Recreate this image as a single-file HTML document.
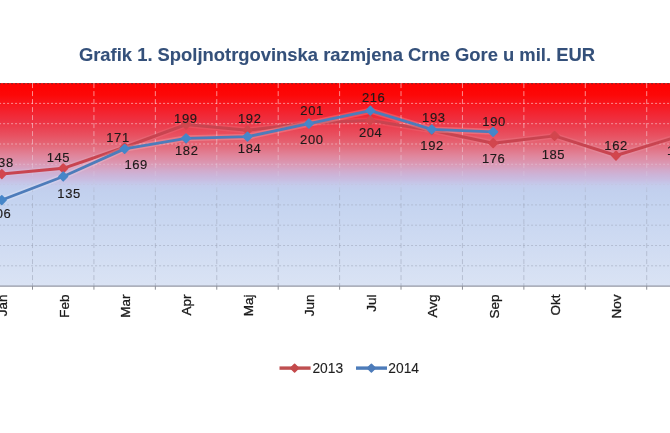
<!DOCTYPE html>
<html><head><meta charset="utf-8"><style>
html,body{margin:0;padding:0;background:#fff;width:670px;height:433px;overflow:hidden}
svg{display:block;filter:blur(0.45px)}
text{font-family:"Liberation Sans",Arial,sans-serif}
.dl{font-size:13px;fill:#1e1a1a;stroke:#1e1a1a;stroke-width:0.15px;text-anchor:middle;letter-spacing:0.6px}
.ml{font-size:13.5px;fill:#1a1a1a;stroke:#1a1a1a;stroke-width:0.3px;text-anchor:end}
.lg{font-size:13.8px;fill:#1e1e1e;stroke:#1e1e1e;stroke-width:0.1px}
.tt{font-size:18.4px;font-weight:bold;fill:#34507a;stroke:#34507a;stroke-width:0.1px}
</style></head><body>
<svg width="670" height="433" viewBox="0 0 670 433">
<defs><linearGradient id="gg" gradientUnits="userSpaceOnUse" x1="0" y1="83" x2="0" y2="286">
<stop offset="0" stop-color="#ffffff" stop-opacity="0.55"/>
<stop offset="0.35" stop-color="#f4e8f0" stop-opacity="0.42"/>
<stop offset="0.45" stop-color="#e0e0f0" stop-opacity="0.2"/>
<stop offset="0.55" stop-color="#98a0b4" stop-opacity="0.45"/>
<stop offset="1" stop-color="#98a0b4" stop-opacity="0.55"/>
</linearGradient>
<linearGradient id="bg" x1="0" y1="0" x2="0" y2="1">
<stop offset="0" stop-color="#ff0000"/>
<stop offset="0.059" stop-color="#fc0808"/>
<stop offset="0.108" stop-color="#f81820"/>
<stop offset="0.182" stop-color="#ee3040"/>
<stop offset="0.256" stop-color="#e85060"/>
<stop offset="0.305" stop-color="#e46878"/>
<stop offset="0.355" stop-color="#e0849a"/>
<stop offset="0.404" stop-color="#da9cb8"/>
<stop offset="0.43" stop-color="#d2aacb"/>
<stop offset="0.453" stop-color="#ccb4d8"/>
<stop offset="0.478" stop-color="#c8bee2"/>
<stop offset="0.502" stop-color="#c4cbec"/>
<stop offset="0.53" stop-color="#c2d0ee"/>
<stop offset="0.6" stop-color="#c5d4f0"/>
<stop offset="1" stop-color="#dae3f4"/>
</linearGradient></defs>
<rect x="-28.91" y="83.10" width="737.04" height="203.00" fill="url(#bg)"/>
<line x1="-28.91" y1="265.80" x2="708.13" y2="265.80" stroke="url(#gg)" stroke-width="1" stroke-dasharray="2 2"/>
<line x1="-28.91" y1="245.50" x2="708.13" y2="245.50" stroke="url(#gg)" stroke-width="1" stroke-dasharray="2 2"/>
<line x1="-28.91" y1="225.20" x2="708.13" y2="225.20" stroke="url(#gg)" stroke-width="1" stroke-dasharray="2 2"/>
<line x1="-28.91" y1="204.90" x2="708.13" y2="204.90" stroke="url(#gg)" stroke-width="1" stroke-dasharray="2 2"/>
<line x1="-28.91" y1="184.60" x2="708.13" y2="184.60" stroke="url(#gg)" stroke-width="1" stroke-dasharray="2 2"/>
<line x1="-28.91" y1="164.30" x2="708.13" y2="164.30" stroke="url(#gg)" stroke-width="1" stroke-dasharray="2 2"/>
<line x1="-28.91" y1="144.00" x2="708.13" y2="144.00" stroke="url(#gg)" stroke-width="1" stroke-dasharray="2 2"/>
<line x1="-28.91" y1="123.70" x2="708.13" y2="123.70" stroke="url(#gg)" stroke-width="1" stroke-dasharray="2 2"/>
<line x1="-28.91" y1="103.40" x2="708.13" y2="103.40" stroke="url(#gg)" stroke-width="1" stroke-dasharray="2 2"/>
<line x1="-28.91" y1="83.70" x2="708.13" y2="83.70" stroke="#7a2a2a" stroke-width="1" stroke-dasharray="2 2"/>
<line x1="32.51" y1="83.10" x2="32.51" y2="286.10" stroke="url(#gg)" stroke-width="1" stroke-dasharray="5 3"/>
<line x1="93.93" y1="83.10" x2="93.93" y2="286.10" stroke="url(#gg)" stroke-width="1" stroke-dasharray="5 3"/>
<line x1="155.35" y1="83.10" x2="155.35" y2="286.10" stroke="url(#gg)" stroke-width="1" stroke-dasharray="5 3"/>
<line x1="216.77" y1="83.10" x2="216.77" y2="286.10" stroke="url(#gg)" stroke-width="1" stroke-dasharray="5 3"/>
<line x1="278.19" y1="83.10" x2="278.19" y2="286.10" stroke="url(#gg)" stroke-width="1" stroke-dasharray="5 3"/>
<line x1="339.61" y1="83.10" x2="339.61" y2="286.10" stroke="url(#gg)" stroke-width="1" stroke-dasharray="5 3"/>
<line x1="401.03" y1="83.10" x2="401.03" y2="286.10" stroke="url(#gg)" stroke-width="1" stroke-dasharray="5 3"/>
<line x1="462.45" y1="83.10" x2="462.45" y2="286.10" stroke="url(#gg)" stroke-width="1" stroke-dasharray="5 3"/>
<line x1="523.87" y1="83.10" x2="523.87" y2="286.10" stroke="url(#gg)" stroke-width="1" stroke-dasharray="5 3"/>
<line x1="585.29" y1="83.10" x2="585.29" y2="286.10" stroke="url(#gg)" stroke-width="1" stroke-dasharray="5 3"/>
<line x1="646.71" y1="83.10" x2="646.71" y2="286.10" stroke="url(#gg)" stroke-width="1" stroke-dasharray="5 3"/>
<line x1="-28.91" y1="286.10" x2="708.13" y2="286.10" stroke="#9498a4" stroke-width="1.2"/>
<line x1="32.51" y1="286.10" x2="32.51" y2="289.70" stroke="#8c8e96" stroke-width="1"/>
<line x1="93.93" y1="286.10" x2="93.93" y2="289.70" stroke="#8c8e96" stroke-width="1"/>
<line x1="155.35" y1="286.10" x2="155.35" y2="289.70" stroke="#8c8e96" stroke-width="1"/>
<line x1="216.77" y1="286.10" x2="216.77" y2="289.70" stroke="#8c8e96" stroke-width="1"/>
<line x1="278.19" y1="286.10" x2="278.19" y2="289.70" stroke="#8c8e96" stroke-width="1"/>
<line x1="339.61" y1="286.10" x2="339.61" y2="289.70" stroke="#8c8e96" stroke-width="1"/>
<line x1="401.03" y1="286.10" x2="401.03" y2="289.70" stroke="#8c8e96" stroke-width="1"/>
<line x1="462.45" y1="286.10" x2="462.45" y2="289.70" stroke="#8c8e96" stroke-width="1"/>
<line x1="523.87" y1="286.10" x2="523.87" y2="289.70" stroke="#8c8e96" stroke-width="1"/>
<line x1="585.29" y1="286.10" x2="585.29" y2="289.70" stroke="#8c8e96" stroke-width="1"/>
<line x1="646.71" y1="286.10" x2="646.71" y2="289.70" stroke="#8c8e96" stroke-width="1"/>
<polyline points="1.80,174.04 63.22,168.36 124.64,147.25 186.06,124.51 247.48,130.20 308.90,122.89 370.32,120.45 431.74,130.20 493.16,143.19 554.58,135.88 616.00,155.53 677.42,136.69" fill="none" stroke="#ffffff" stroke-opacity="0.08" stroke-width="6" stroke-linejoin="round"/>
<polyline points="1.80,174.04 63.22,168.36 124.64,147.25 186.06,124.51 247.48,130.20 308.90,122.89 370.32,120.45 431.74,130.20 493.16,143.19 554.58,135.88 616.00,155.53 677.42,136.69" fill="none" stroke="#c84450" stroke-width="3.0" stroke-linejoin="round"/>
<path d="M1.80 169.74L6.10 174.04L1.80 178.34L-2.50 174.04Z" fill="#d2464e" stroke="#d2464e" stroke-width="1.6" stroke-linejoin="round"/>
<path d="M63.22 164.06L67.52 168.36L63.22 172.66L58.92 168.36Z" fill="#d2464e" stroke="#d2464e" stroke-width="1.6" stroke-linejoin="round"/>
<path d="M124.64 142.95L128.94 147.25L124.64 151.55L120.34 147.25Z" fill="#d2464e" stroke="#d2464e" stroke-width="1.6" stroke-linejoin="round"/>
<path d="M186.06 120.21L190.36 124.51L186.06 128.81L181.76 124.51Z" fill="#d2464e" stroke="#d2464e" stroke-width="1.6" stroke-linejoin="round"/>
<path d="M247.48 125.90L251.78 130.20L247.48 134.50L243.18 130.20Z" fill="#d2464e" stroke="#d2464e" stroke-width="1.6" stroke-linejoin="round"/>
<path d="M308.90 118.59L313.20 122.89L308.90 127.19L304.60 122.89Z" fill="#d2464e" stroke="#d2464e" stroke-width="1.6" stroke-linejoin="round"/>
<path d="M370.32 116.15L374.62 120.45L370.32 124.75L366.02 120.45Z" fill="#d2464e" stroke="#d2464e" stroke-width="1.6" stroke-linejoin="round"/>
<path d="M431.74 125.90L436.04 130.20L431.74 134.50L427.44 130.20Z" fill="#d2464e" stroke="#d2464e" stroke-width="1.6" stroke-linejoin="round"/>
<path d="M493.16 138.89L497.46 143.19L493.16 147.49L488.86 143.19Z" fill="#d2464e" stroke="#d2464e" stroke-width="1.6" stroke-linejoin="round"/>
<path d="M554.58 131.58L558.88 135.88L554.58 140.18L550.28 135.88Z" fill="#d2464e" stroke="#d2464e" stroke-width="1.6" stroke-linejoin="round"/>
<path d="M616.00 151.23L620.30 155.53L616.00 159.83L611.70 155.53Z" fill="#d2464e" stroke="#d2464e" stroke-width="1.6" stroke-linejoin="round"/>
<path d="M677.42 132.39L681.72 136.69L677.42 140.99L673.12 136.69Z" fill="#d2464e" stroke="#d2464e" stroke-width="1.6" stroke-linejoin="round"/>
<polyline points="1.80,200.03 63.22,176.48 124.64,148.87 186.06,138.32 247.48,136.69 308.90,123.70 370.32,110.71 431.74,129.38 493.16,131.82" fill="none" stroke="#ffffff" stroke-opacity="0.18" stroke-width="6" stroke-linejoin="round"/>
<polyline points="1.80,200.03 63.22,176.48 124.64,148.87 186.06,138.32 247.48,136.69 308.90,123.70 370.32,110.71 431.74,129.38 493.16,131.82" fill="none" stroke="#4d7cba" stroke-width="2.8" stroke-linejoin="round"/>
<path d="M1.80 195.73L6.10 200.03L1.80 204.33L-2.50 200.03Z" fill="#4686c8" stroke="#4686c8" stroke-width="1.6" stroke-linejoin="round"/>
<path d="M63.22 172.18L67.52 176.48L63.22 180.78L58.92 176.48Z" fill="#4686c8" stroke="#4686c8" stroke-width="1.6" stroke-linejoin="round"/>
<path d="M124.64 144.57L128.94 148.87L124.64 153.17L120.34 148.87Z" fill="#4686c8" stroke="#4686c8" stroke-width="1.6" stroke-linejoin="round"/>
<path d="M186.06 134.02L190.36 138.32L186.06 142.62L181.76 138.32Z" fill="#4686c8" stroke="#4686c8" stroke-width="1.6" stroke-linejoin="round"/>
<path d="M247.48 132.39L251.78 136.69L247.48 140.99L243.18 136.69Z" fill="#4686c8" stroke="#4686c8" stroke-width="1.6" stroke-linejoin="round"/>
<path d="M308.90 119.40L313.20 123.70L308.90 128.00L304.60 123.70Z" fill="#4686c8" stroke="#4686c8" stroke-width="1.6" stroke-linejoin="round"/>
<path d="M370.32 106.41L374.62 110.71L370.32 115.01L366.02 110.71Z" fill="#4686c8" stroke="#4686c8" stroke-width="1.6" stroke-linejoin="round"/>
<path d="M431.74 125.08L436.04 129.38L431.74 133.68L427.44 129.38Z" fill="#4686c8" stroke="#4686c8" stroke-width="1.6" stroke-linejoin="round"/>
<path d="M493.16 127.52L497.46 131.82L493.16 136.12L488.86 131.82Z" fill="#4686c8" stroke="#4686c8" stroke-width="1.6" stroke-linejoin="round"/>
<text x="2.00" y="167.00" class="dl">138</text>
<text x="-0.40" y="217.50" class="dl">106</text>
<text x="58.45" y="161.80" class="dl">145</text>
<text x="69.10" y="197.70" class="dl">135</text>
<text x="118.00" y="142.30" class="dl">171</text>
<text x="136.20" y="168.80" class="dl">169</text>
<text x="185.85" y="122.60" class="dl">199</text>
<text x="186.75" y="154.50" class="dl">182</text>
<text x="249.75" y="122.60" class="dl">192</text>
<text x="249.55" y="153.00" class="dl">184</text>
<text x="312.10" y="115.00" class="dl">201</text>
<text x="311.85" y="144.00" class="dl">200</text>
<text x="373.65" y="102.20" class="dl">216</text>
<text x="370.65" y="137.00" class="dl">204</text>
<text x="433.85" y="121.80" class="dl">193</text>
<text x="432.05" y="150.30" class="dl">192</text>
<text x="494.05" y="126.20" class="dl">190</text>
<text x="493.70" y="162.80" class="dl">176</text>
<text x="553.45" y="158.80" class="dl">185</text>
<text x="616.10" y="149.50" class="dl">162</text>
<text x="678.75" y="154.50" class="dl">187</text>
<text transform="translate(7.20,294.40) rotate(-90)" class="ml">Jan</text>
<text transform="translate(68.62,294.40) rotate(-90)" class="ml">Feb</text>
<text transform="translate(130.04,294.40) rotate(-90)" class="ml">Mar</text>
<text transform="translate(191.46,294.40) rotate(-90)" class="ml">Apr</text>
<text transform="translate(252.88,294.40) rotate(-90)" class="ml">Maj</text>
<text transform="translate(314.30,294.40) rotate(-90)" class="ml">Jun</text>
<text transform="translate(375.72,294.40) rotate(-90)" class="ml">Jul</text>
<text transform="translate(437.14,294.40) rotate(-90)" class="ml">Avg</text>
<text transform="translate(498.56,294.40) rotate(-90)" class="ml">Sep</text>
<text transform="translate(559.98,294.40) rotate(-90)" class="ml">Okt</text>
<text transform="translate(621.40,294.40) rotate(-90)" class="ml">Nov</text>
<text transform="translate(682.82,294.40) rotate(-90)" class="ml">Dec</text>
<line x1="279.5" y1="368.1" x2="310.6" y2="368.1" stroke="#bf4f50" stroke-width="3.4"/>
<path d="M294.60 364.30L298.40 368.10L294.60 371.90L290.80 368.10Z" fill="#c44a4c" stroke="#c44a4c" stroke-width="1.6" stroke-linejoin="round"/>
<text x="312.4" y="373.2" class="lg">2013</text>
<line x1="356" y1="368.1" x2="387" y2="368.1" stroke="#4d7cba" stroke-width="3.4"/>
<path d="M371.40 364.30L375.20 368.10L371.40 371.90L367.60 368.10Z" fill="#4d7cba" stroke="#4d7cba" stroke-width="1.6" stroke-linejoin="round"/>
<text x="388.3" y="373.2" class="lg">2014</text>
<text x="78.9" y="60.7" class="tt">Grafik 1. Spoljnotrgovinska razmjena Crne Gore u mil. EUR</text>
</svg>
</body></html>
